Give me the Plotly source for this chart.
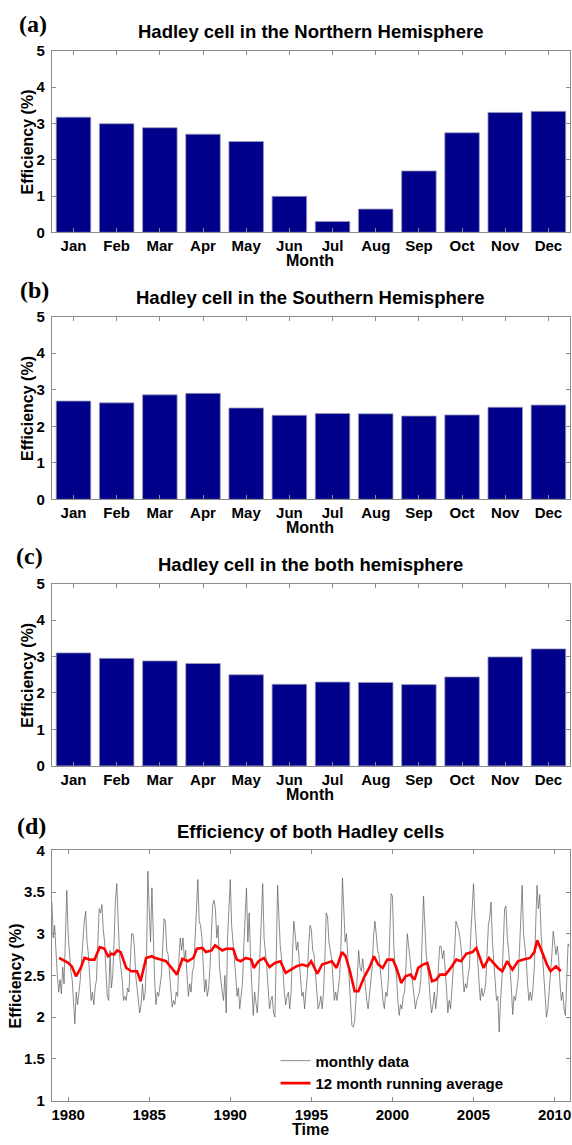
import plotly.graph_objects as go

W, H = 572, 1145

months = ["Jan", "Feb", "Mar", "Apr", "May", "Jun", "Jul", "Aug", "Sep", "Oct", "Nov", "Dec"]
nh_eff = [3.17, 2.99, 2.88, 2.70, 2.50, 0.99, 0.30, 0.64, 1.69, 2.74, 3.30, 3.33]
sh_eff = [2.69, 2.64, 2.86, 2.90, 2.50, 2.30, 2.35, 2.34, 2.28, 2.31, 2.52, 2.58]
both_eff = [3.10, 2.95, 2.88, 2.81, 2.50, 2.24, 2.30, 2.29, 2.23, 2.44, 2.99, 3.21]

years = list(range(1979, 2011))
monthly = {
    1979: [3.38, 2.95, 3.10, 2.75, 2.50, 2.30, 2.45, 2.28, 2.60, 2.40, 2.95, 3.52],
    1980: [3.00, 2.70, 2.55, 2.45, 2.20, 1.92, 2.30, 2.15, 2.30, 2.45, 2.70, 2.95],
    1981: [3.15, 3.27, 2.90, 2.75, 2.45, 2.20, 2.30, 2.15, 2.35, 2.45, 2.90, 3.30],
    1982: [3.25, 3.35, 3.05, 2.90, 2.55, 2.25, 2.20, 2.80, 2.35, 2.50, 2.90, 3.40],
    1983: [3.60, 3.10, 2.75, 2.60, 2.45, 2.20, 2.25, 2.20, 2.35, 2.30, 2.60, 3.00],
    1984: [3.00, 2.85, 2.50, 2.35, 2.20, 2.05, 2.15, 2.40, 2.20, 2.30, 2.65, 3.75],
    1985: [3.30, 2.90, 3.55, 2.80, 2.45, 2.15, 2.30, 2.25, 2.40, 2.50, 2.85, 3.18],
    1986: [3.15, 2.80, 2.75, 2.55, 2.35, 2.12, 2.20, 2.15, 2.30, 2.25, 2.70, 2.95],
    1987: [2.80, 2.95, 2.70, 2.80, 2.50, 2.25, 2.40, 2.30, 2.55, 2.60, 2.95, 3.25],
    1988: [3.65, 3.15, 3.10, 2.95, 2.55, 2.30, 2.45, 2.25, 2.35, 2.60, 3.00, 3.35],
    1989: [3.40, 3.30, 2.95, 3.10, 2.60, 2.40, 2.30, 2.20, 2.50, 2.05, 2.95, 3.30],
    1990: [3.65, 3.10, 2.90, 2.80, 2.50, 2.25, 2.35, 2.10, 2.30, 2.40, 2.85, 3.20],
    1991: [3.55, 2.90, 3.25, 2.70, 2.40, 2.02, 2.30, 2.20, 2.05, 2.35, 2.75, 3.30],
    1992: [3.60, 2.95, 2.80, 2.60, 2.35, 2.10, 2.20, 2.25, 2.05, 2.00, 2.70, 3.58],
    1993: [3.20, 2.85, 2.70, 2.55, 2.30, 2.15, 2.25, 2.30, 2.10, 2.30, 2.75, 3.15],
    1994: [3.00, 2.80, 2.90, 2.70, 2.40, 2.25, 2.30, 2.10, 2.30, 2.50, 2.85, 3.10],
    1995: [3.05, 2.80, 2.75, 2.50, 2.30, 2.10, 2.15, 2.25, 2.10, 2.30, 2.70, 3.25],
    1996: [3.20, 2.90, 2.80, 2.70, 2.45, 2.20, 2.30, 2.20, 2.35, 2.50, 2.90, 3.67],
    1997: [3.30, 2.90, 3.00, 2.70, 2.40, 2.15, 1.90, 1.88, 1.95, 2.20, 2.45, 2.80],
    1998: [2.60, 2.55, 2.70, 2.50, 2.30, 2.20, 2.10, 2.25, 2.40, 2.60, 2.95, 3.15],
    1999: [3.00, 2.80, 2.75, 2.60, 2.40, 2.20, 2.10, 2.30, 2.25, 2.45, 2.90, 3.48],
    2000: [3.45, 2.85, 2.60, 2.50, 2.20, 2.02, 2.15, 2.10, 2.25, 2.30, 2.60, 3.00],
    2001: [2.85, 2.70, 2.60, 2.45, 2.30, 2.10, 2.20, 2.25, 2.30, 2.45, 2.85, 3.45],
    2002: [3.10, 2.75, 2.60, 2.45, 2.20, 2.05, 2.15, 2.30, 2.10, 2.25, 2.60, 2.85],
    2003: [2.85, 2.70, 2.80, 2.60, 2.35, 2.05, 2.20, 2.10, 2.30, 2.50, 2.80, 3.15],
    2004: [3.10, 3.05, 2.95, 2.80, 2.55, 2.30, 2.40, 2.35, 2.50, 2.60, 3.00, 3.40],
    2005: [3.60, 3.20, 2.95, 2.75, 2.45, 2.20, 2.35, 2.25, 2.30, 2.40, 2.75, 3.10],
    2006: [3.20, 3.38, 2.90, 2.70, 2.40, 2.20, 2.25, 1.82, 2.20, 2.45, 2.85, 3.30],
    2007: [3.33, 2.95, 2.80, 2.60, 2.35, 2.03, 2.25, 2.20, 2.35, 2.45, 2.80, 3.20],
    2008: [3.58, 3.00, 2.85, 2.70, 2.40, 2.20, 2.30, 2.20, 2.35, 2.60, 3.10, 3.58],
    2009: [3.30, 3.47, 3.00, 2.75, 2.45, 2.20, 2.00, 2.10, 2.30, 2.50, 2.75, 3.03],
    2010: [2.90, 2.75, 2.85, 2.70, 2.40, 2.20, 2.30, 2.10, 2.02, 2.45, 2.88, 2.85],
}

run_t = [1979.44, 1979.66, 1979.84, 1980.00, 1980.22, 1980.49, 1980.78, 1981.01, 1981.34, 1981.63,
         1981.95, 1982.24, 1982.46, 1982.68, 1982.84, 1983.02, 1983.24, 1983.58, 1983.91, 1984.25,
         1984.47, 1984.81, 1985.15, 1985.37, 1985.70, 1986.04, 1986.38, 1986.71, 1987.05, 1987.38,
         1987.72, 1987.94, 1988.28, 1988.50, 1988.84, 1989.06, 1989.28, 1989.51, 1989.73, 1990.18,
         1990.40, 1990.63, 1990.96, 1991.30, 1991.45, 1991.74, 1992.08, 1992.42, 1992.75, 1993.09,
         1993.42, 1993.76, 1994.09, 1994.43, 1994.77, 1994.99, 1995.37, 1995.66, 1996.00, 1996.26,
         1996.55, 1996.89, 1997.11, 1997.38, 1997.67, 1997.90, 1998.23, 1998.57, 1998.86, 1999.13,
         1999.40, 1999.69, 2000.02, 2000.25, 2000.54, 2000.81, 2001.10, 2001.36, 2001.59, 2001.88,
         2002.15, 2002.44, 2002.71, 2002.93, 2003.27, 2003.60, 2003.94, 2004.23, 2004.56, 2004.94,
         2005.17, 2005.39, 2005.62, 2005.95, 2006.24, 2006.51, 2006.78, 2007.07, 2007.40, 2007.74,
         2008.08, 2008.48, 2008.75, 2008.93, 2009.19, 2009.53, 2009.75, 2010.09, 2010.38]
run_v = [2.71, 2.69, 2.67, 2.65, 2.61, 2.49, 2.59, 2.71, 2.69, 2.69,
         2.84, 2.82, 2.73, 2.76, 2.75, 2.80, 2.78, 2.59, 2.55, 2.55,
         2.43, 2.71, 2.73, 2.71, 2.69, 2.67, 2.59, 2.51, 2.70, 2.67,
         2.71, 2.82, 2.83, 2.78, 2.80, 2.86, 2.83, 2.80, 2.82, 2.82,
         2.69, 2.67, 2.71, 2.69, 2.59, 2.67, 2.71, 2.60, 2.65, 2.67,
         2.53, 2.57, 2.61, 2.63, 2.61, 2.67, 2.52, 2.63, 2.65, 2.67,
         2.59, 2.78, 2.73, 2.55, 2.31, 2.31, 2.47, 2.59, 2.73, 2.63,
         2.59, 2.69, 2.69, 2.59, 2.41, 2.49, 2.51, 2.45, 2.59, 2.63,
         2.65, 2.43, 2.45, 2.51, 2.51, 2.59, 2.69, 2.67, 2.76, 2.78,
         2.83, 2.71, 2.59, 2.71, 2.65, 2.59, 2.55, 2.67, 2.57, 2.67,
         2.69, 2.71, 2.78, 2.92, 2.80, 2.63, 2.55, 2.61, 2.55]

titles = ["Hadley cell in the Northern Hemisphere",
          "Hadley cell in the Southern Hemisphere",
          "Hadley cell in the both hemisphere",
          "Efficiency of both Hadley cells"]
panel_labels = ["(a)", "(b)", "(c)", "(d)"]

month_t = []
month_v = []
for y in years:
    for m, v in enumerate(monthly[y]):
        month_t.append(y + m / 12.0)
        month_v.append(v)

FONT = "Liberation Sans, Arial, sans-serif"
BAR_COLOR = "#00008b"
AX_COLOR = "#8c8c8c"

x_left, x_right = 52, 571
panels_px = [(42.3, 226.7), (312.3, 497.7), (583.3, 768.3), (854, 1108)]
title_y = [22.7, 292.7, 564, 835]
label_pos = [(33, 15), (35, 285), (30, 555), (32, 829)]
month_y = [255, 526, 797, 1137]

def py(p):
    return 1 - p / H

fig = go.Figure()
bar_data = [nh_eff, sh_eff, both_eff]
for i, vals in enumerate(bar_data):
    ax = "" if i == 0 else str(i + 1)
    fig.add_trace(go.Bar(x=list(range(1, 13)), y=vals, marker_color=BAR_COLOR,
                         marker_line_color="#9a9ab8", marker_line_width=0.8,
                         xaxis="x" + ax, yaxis="y" + ax, showlegend=False, width=0.8))

fig.add_trace(go.Scatter(x=month_t, y=month_v, mode="lines", name="monthly data",
                         line=dict(color="#5a5a5a", width=0.7), xaxis="x4", yaxis="y4"))
fig.add_trace(go.Scatter(x=run_t, y=run_v, mode="lines", name="12 month running average",
                         line=dict(color="#ff0000", width=2.6), xaxis="x4", yaxis="y4"))

axis_common = dict(showline=True, linecolor=AX_COLOR, linewidth=1, mirror="ticks",
                   ticks="inside", ticklen=4, tickcolor=AX_COLOR, showgrid=False, zeroline=False,
                   ticklabeloverflow="allow",
                   tickfont=dict(family=FONT, size=15, color="black", weight="bold"))

layout = dict(width=W, height=H, margin=dict(l=0, r=0, t=0, b=0),
              plot_bgcolor="white", paper_bgcolor="white", bargap=0.2)

for i in range(4):
    n = "" if i == 0 else str(i + 1)
    top, bot = panels_px[i]
    xa = dict(axis_common, domain=[x_left / W, x_right / W], anchor="y" + n)
    ya = dict(axis_common, domain=[py(bot), py(top)], anchor="x" + n, ticklabelstandoff=3)
    if i < 3:
        xa.update(range=[0.5, 12.5], tickvals=list(range(1, 13)), ticktext=months)
        ya.update(range=[0, 5], tickvals=[0, 1, 2, 3, 4, 5])
    else:
        xa.update(range=[1979, 2010.95], tickvals=[1980, 1985, 1990, 1995, 2000, 2005, 2010])
        ya.update(range=[1, 4], tickvals=[1, 1.5, 2, 2.5, 3, 3.5, 4])
    layout["xaxis" + n] = xa
    layout["yaxis" + n] = ya

annotations = []
for i in range(4):
    top, bot = panels_px[i]
    annotations.append(dict(text=titles[i], x=311 / W, y=py(title_y[i]), xref="paper", yref="paper",
                            showarrow=False, xanchor="center", yanchor="middle",
                            font=dict(family=FONT, size=18.5, color="black", weight="bold")))
    lx, ly = label_pos[i]
    annotations.append(dict(text=panel_labels[i], x=lx / W, y=py(ly), xref="paper", yref="paper",
                            showarrow=False, xanchor="center", yanchor="middle",
                            font=dict(family="Liberation Serif, Times New Roman, serif", size=24,
                                      color="black", weight="bold")))
    ytx = 28 if i < 3 else 15
    annotations.append(dict(text="Efficiency (%)", x=ytx / W, y=py((top + bot) / 2), xref="paper",
                            yref="paper", showarrow=False, textangle=-90, xanchor="center",
                            yanchor="middle",
                            font=dict(family=FONT, size=16, color="black", weight="bold")))
    annotations.append(dict(text="Month" if i < 3 else "Time", x=311 / W, y=py(month_y[i]),
                            xref="paper", yref="paper", showarrow=False, xanchor="center",
                            yanchor="middle",
                            font=dict(family=FONT, size=16, color="black", weight="bold")))
layout["annotations"] = annotations
layout["legend"] = dict(x=276 / W, y=py(1051), xanchor="left", yanchor="top",
                        bgcolor="rgba(0,0,0,0)", borderwidth=0, itemwidth=30, tracegroupgap=0,
                        font=dict(family=FONT, size=15, color="black", weight="bold"))
fig.update_layout(**layout)
fig.write_html("out.html")
